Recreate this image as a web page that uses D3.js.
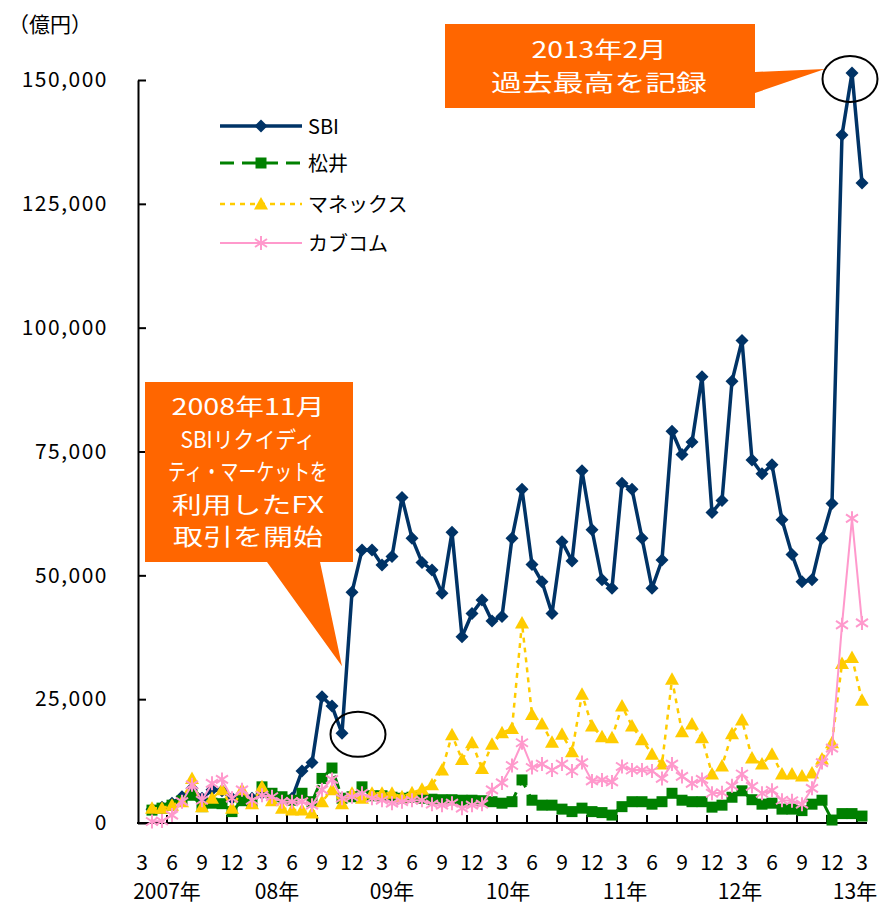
<!DOCTYPE html>
<html>
<head>
<meta charset="utf-8">
<script src="https://cdn.jsdelivr.net/npm/d3@7"></script>
<style>
  body { margin: 0; background: #fff; }
  svg { display: block; font-family: "Noto Sans CJK JP", "Noto Sans", sans-serif; }
</style>
</head>
<body>
<svg id="chart" width="883" height="905"></svg>
<script>
// 月次カテゴリ（2007年3月〜2013年3月）
const months = [
  "2007/3","2007/4","2007/5","2007/6","2007/7","2007/8","2007/9","2007/10","2007/11","2007/12",
  "2008/1","2008/2","2008/3","2008/4","2008/5","2008/6","2008/7","2008/8","2008/9","2008/10","2008/11","2008/12",
  "2009/1","2009/2","2009/3","2009/4","2009/5","2009/6","2009/7","2009/8","2009/9","2009/10","2009/11","2009/12",
  "2010/1","2010/2","2010/3","2010/4","2010/5","2010/6","2010/7","2010/8","2010/9","2010/10","2010/11","2010/12",
  "2011/1","2011/2","2011/3","2011/4","2011/5","2011/6","2011/7","2011/8","2011/9","2011/10","2011/11","2011/12",
  "2012/1","2012/2","2012/3","2012/4","2012/5","2012/6","2012/7","2012/8","2012/9","2012/10","2012/11","2012/12",
  "2013/1","2013/2","2013/3"
];

// 取引高（億円）
const sbi = [null,
  2800, 3200, 4000, 5300, 7000, 5000, 6700, 6500, 5000,
  5800, 5000, 6000, 5500, 4800, 5000, 10500, 12200, 25500, 23600, 18100, 46600,
  55100, 55100, 52100, 53800, 65700, 57500, 52600, 51100, 46400, 58700, 37600, 42300,
  45000, 40800, 41700, 57500, 67400, 52200, 48700, 42300, 56800, 52900, 71100, 59200,
  49100, 47400, 68600, 67400, 57500, 47400, 53100, 79100, 74400, 76900, 90100, 62700,
  65100, 89200, 97400, 73300, 70500, 72300, 61200, 54200, 48700, 49100, 57500, 64500,
  138900, 151400, 129200];
const matsui = [null,
  2600, 3000, 3600, 4500, 5600, 3300, 4000, 3900, 2300,
  4500, 4000, 7300, 6000, 5300, 4600, 6000, 4300, 9000, 11100, 5000, 5300,
  7300, 5500, 5500, 5200, 5000, 5200, 5000, 4800, 4700, 4700, 4600, 4600,
  4500, 4300, 4000, 4300, 8700, 4600, 3600, 3600, 2800, 2300, 3000, 2300,
  2100, 1600, 3300, 4300, 4300, 3800, 4300, 6000, 4600, 4300, 4300, 3200,
  3600, 5200, 6500, 4700, 3800, 4000, 2800, 2800, 2500, 3800, 4600, 600,
  1900, 1900, 1400];
const monex = [null,
  3000, 3000, 3600, 4300, 9000, 3300, 5000, 6700, 3000,
  6700, 3900, 7300, 4500, 3000, 2600, 2600, 2000, 4300, 6700, 3900, 6000,
  5000, 6000, 6000, 6000, 5300, 6100, 6800, 7700, 10700, 17800, 12800, 16200,
  11000, 15900, 18200, 19100, 40400, 21900, 20000, 16300, 17900, 14400, 26000, 19600,
  17400, 17200, 23600, 19600, 16800, 13900, 11900, 29000, 18400, 20000, 17200, 9900,
  11500, 18000, 20800, 13100, 11900, 13900, 9900, 9900, 9500, 10100, 12900, 16200,
  32200, 33400, 24800];
const kabucom = [null,
  300, 400, 1600, 4300, 7700, 4600, 8000, 8800, 5000,
  6700, 4600, 5600, 5300, 4300, 4300, 4300, 3600, 6700, 8800, 5000, 5300,
  6000, 5000, 4600, 4000, 4300, 4600, 4600, 3800, 3600, 4000, 3000, 3600,
  3800, 6700, 8100, 11600, 16200, 11200, 11900, 10700, 11900, 10500, 12200, 8500,
  8700, 8300, 11400, 10700, 10700, 10500, 9000, 11900, 9400, 8000, 8800, 6000,
  6100, 7500, 9900, 7400, 6000, 6600, 4600, 4500, 3800, 7000, 12200, 15100,
  40000, 61500, 40400];

const seriesNames = ["SBI", "松井", "マネックス", "カブコム"];
const yTicks = [0, 25000, 50000, 75000, 100000, 125000, 150000];
const yearLabels = ["2007年", "08年", "09年", "10年", "11年", "12年", "13年"];
const yearLabelAt = [2.5, 13.5, 25, 36.6, 48.3, 59.8, 71.3]; // 月インデックス上の位置

const svg = d3.select("#chart");
const orange = "#FF6600";

const x = d3.scaleBand().domain(months).range([137, 867]).padding(0);
const cx = m => x(m) + x.bandwidth() / 2;
const xi = d3.scaleLinear().domain([0, months.length - 1]).range([cx(months[0]), cx(months[months.length - 1])]);
const y = d3.scaleLinear().domain([0, 150000]).range([823, 80]);

// マーカー
const markers = {
  diamond: "M0,-6.5L6.5,0L0,6.5L-6.5,0Z",
  square: "M-5.5,-5.5H5.5V5.5H-5.5Z",
  triangle: "M0,-7L7,5.5L-7,5.5Z",
  star: "M0,-7V7M-6,-4L6,4M-6,4L6,-4"
};

const styles = [
  { data: sbi, color: "#003366", width: 3.5, dash: null, marker: "diamond" },
  { data: matsui, color: "#008000", width: 3, dash: "14,8", marker: "square" },
  { data: monex, color: "#FFCC00", width: 2.5, dash: "5,5", marker: "triangle" },
  { data: kabucom, color: "#FF99CC", width: 2, dash: null, marker: "star" }
];

// Y軸
const yAxis = d3.axisLeft(y)
  .tickValues(yTicks)
  .tickSize(-8)
  .tickSizeOuter(0)
  .tickPadding(30)
  .tickFormat(d3.format(","));

const gy = svg.append("g").attr("transform", "translate(138,0)").call(yAxis);
gy.select(".domain").attr("stroke", "#000").attr("stroke-width", 2);
gy.selectAll(".tick line").attr("stroke", "#000").attr("stroke-width", 2);
gy.selectAll(".tick text")
  .attr("font-family", "'Noto Sans CJK JP', sans-serif")
  .attr("font-size", 21)
  .attr("letter-spacing", 1.5)
  .attr("fill", "#000");

svg.append("text")
  .attr("x", 8).attr("y", 32)
  .attr("font-size", 21)
  .text("（億円）");

// X軸
const gx = svg.append("g");
gx.append("line")
  .attr("x1", 137).attr("x2", 867)
  .attr("y1", y(0)).attr("y2", y(0))
  .attr("stroke", "#000").attr("stroke-width", 2);

const tickIdx = d3.range(3, months.length, 3);
gx.selectAll(".xtick")
  .data(tickIdx)
  .join("line")
  .attr("class", "xtick")
  .attr("x1", i => x(months[i])).attr("x2", i => x(months[i]))
  .attr("y1", y(0)).attr("y2", y(0) - 8)
  .attr("stroke", "#000").attr("stroke-width", 2);

const labelIdx = d3.range(0, months.length, 3);
gx.selectAll(".xlabel")
  .data(labelIdx)
  .join("text")
  .attr("class", "xlabel")
  .attr("x", i => cx(months[i]))
  .attr("y", 870)
  .attr("text-anchor", "middle")
  .attr("font-size", 21)
  .text(i => months[i].split("/")[1]);

gx.selectAll(".ylabel")
  .data(yearLabels)
  .join("text")
  .attr("class", "ylabel")
  .attr("x", (d, i) => xi(yearLabelAt[i]))
  .attr("y", 899)
  .attr("text-anchor", "middle")
  .attr("font-size", 21)
  .text(d => d);

// 系列
const line = d3.line()
  .defined(d => d != null)
  .x((d, i) => cx(months[i]))
  .y(d => y(d));

styles.forEach(s => {
  const g = svg.append("g");
  g.append("path")
    .datum(s.data)
    .attr("d", line)
    .attr("fill", "none")
    .attr("stroke", s.color)
    .attr("stroke-width", s.width)
    .attr("stroke-dasharray", s.dash)
    .attr("stroke-linejoin", "round");

  g.selectAll("path.m")
    .data(s.data.map((v, i) => ({ v, i })).filter(d => d.v != null))
    .join("path")
    .attr("class", "m")
    .attr("transform", d => `translate(${cx(months[d.i])},${y(d.v)})`)
    .attr("d", markers[s.marker])
    .attr("fill", s.marker === "star" ? "none" : s.color)
    .attr("stroke", s.color)
    .attr("stroke-width", s.marker === "star" ? 2 : 0);
});

// 凡例
const legendY = [126, 163, 204, 243];
const legend = svg.append("g");
styles.forEach((s, i) => {
  const ly = legendY[i];
  legend.append("line")
    .attr("x1", 220).attr("x2", 302)
    .attr("y1", ly).attr("y2", ly)
    .attr("stroke", s.color)
    .attr("stroke-width", s.width)
    .attr("stroke-dasharray", s.dash);
  legend.append("path")
    .attr("transform", `translate(261,${ly})`)
    .attr("d", markers[s.marker])
    .attr("fill", s.marker === "star" ? "none" : s.color)
    .attr("stroke", s.color)
    .attr("stroke-width", s.marker === "star" ? 2 : 0);
  legend.append("text")
    .attr("x", 308).attr("y", ly + 7.5)
    .attr("font-size", 20)
    .text(seriesNames[i]);
});

// 吹き出し1（2008年11月）
const note1 = [
  { t: "2008年11月", w: 153 },
  { t: "SBIリクイディ", w: 135 },
  { t: "ティ・マーケットを", w: 160 },
  { t: "利用したFX", w: 152 },
  { t: "取引を開始", w: 150 }
];
const a1 = svg.append("g");
a1.append("path")
  .attr("d", `M145,382H353V562H320L${cx("2008/11")},${y(18100) - 67}L267,562H145Z`)
  .attr("fill", orange);
a1.selectAll("text")
  .data(note1)
  .join("text")
  .attr("x", 248)
  .attr("y", (d, i) => 415 + i * 32.5)
  .attr("text-anchor", "middle")
  .attr("font-size", 22.5)
  .attr("fill", "#fff")
  .attr("textLength", d => d.w)
  .attr("lengthAdjust", "spacingAndGlyphs")
  .text(d => d.t);
a1.append("ellipse")
  .attr("cx", cx("2008/11") + 16).attr("cy", y(18100) + 1)
  .attr("rx", 27.5).attr("ry", 22.5)
  .attr("fill", "none").attr("stroke", "#000").attr("stroke-width", 2);

// 吹き出し2（2013年2月）
const note2 = [
  { t: "2013年2月", w: 135 },
  { t: "過去最高を記録", w: 216 }
];
const a2 = svg.append("g");
a2.append("path")
  .attr("d", `M445,24H755V72L${cx("2013/2") - 27},69L755,93V108H445Z`)
  .attr("fill", orange);
a2.selectAll("text")
  .data(note2)
  .join("text")
  .attr("x", 599)
  .attr("y", (d, i) => 58 + i * 33)
  .attr("text-anchor", "middle")
  .attr("font-size", 22.5)
  .attr("fill", "#fff")
  .attr("textLength", d => d.w)
  .attr("lengthAdjust", "spacingAndGlyphs")
  .text(d => d.t);
a2.append("ellipse")
  .attr("cx", cx("2013/2") - 2).attr("cy", y(151400) + 6)
  .attr("rx", 27.5).attr("ry", 23)
  .attr("fill", "none").attr("stroke", "#000").attr("stroke-width", 2);
</script>
</body>
</html>
